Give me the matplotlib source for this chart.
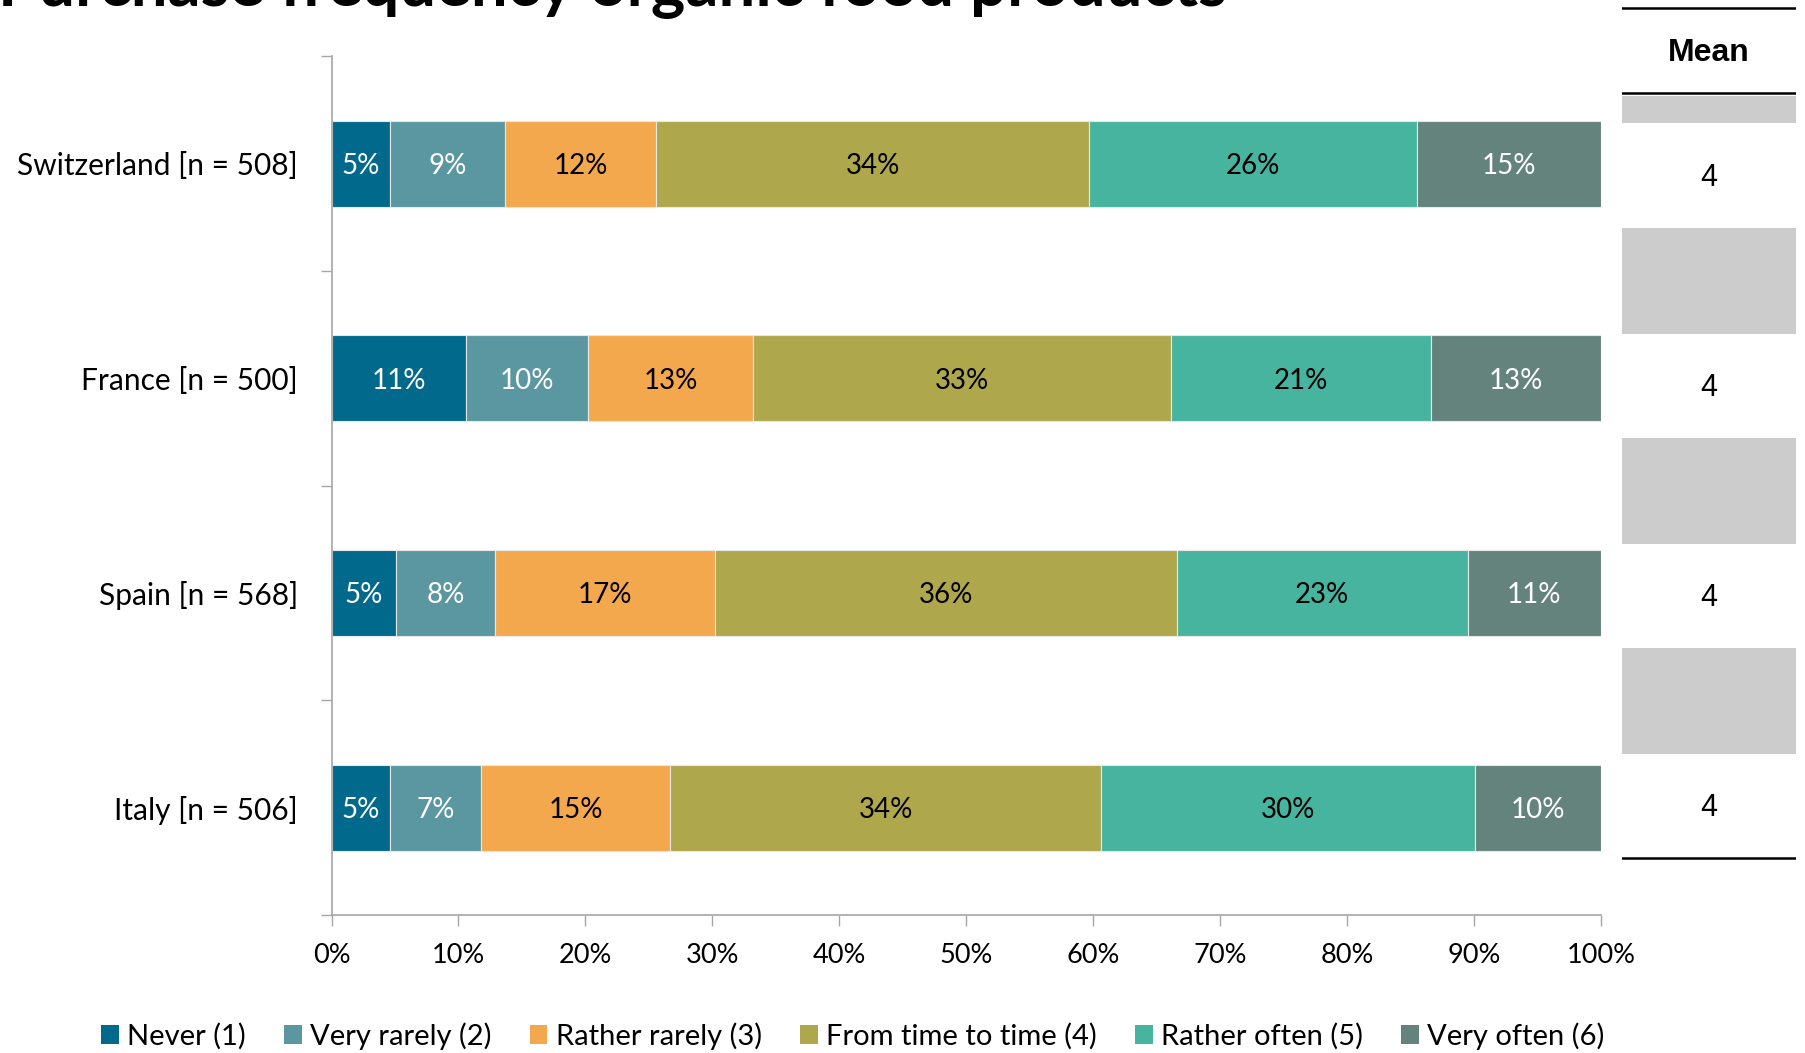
import matplotlib
matplotlib.use("Agg")
import matplotlib.pyplot as plt
import numpy as np

countries = ["Switzerland [n = 508]", "France [n = 500]", "Spain [n = 568]", "Italy [n = 506]"]
categories = ["Never (1)", "Very rarely (2)", "Rather rarely (3)", "From time to time (4)",
              "Rather often (5)", "Very often (6)"]
never = [4.6, 10.6, 5.1, 4.6]
very_rarely = [9.1, 9.6, 7.8, 7.2]
rather_rarely = [11.9, 13.0, 17.3, 14.9]
time_to_time = [34.1, 32.9, 36.4, 33.9]
rather_often = [25.8, 20.5, 22.9, 29.5]
very_often = [14.5, 13.4, 10.5, 9.9]
means = [4, 4, 4, 4]
xticks = [0, 10, 20, 30, 40, 50, 60, 70, 80, 90, 100]
title = "Purchase frequency organic food products"

series = [never, very_rarely, rather_rarely, time_to_time, rather_often, very_often]
colors = ["#016a8c", "#5b97a0", "#f4a84e", "#afa74c", "#46b49e", "#64837c"]
label_colors = ["white", "white", "black", "black", "black", "white"]

FONT = "Lato"
W, H = 1805, 1053
fig = plt.figure(figsize=(W / 100, H / 100), dpi=100)

# main axes
ax = fig.add_axes([331.5 / W, 1 - 915 / H, (1601 - 331.5) / W, (915 - 56.4) / H])
ypos = np.arange(len(countries))
left = np.zeros(len(countries))
for vals, col, lc, name in zip(series, colors, label_colors, categories):
    vals = np.array(vals)
    bars = ax.barh(ypos, vals, left=left, height=0.4, color=col, edgecolor="#e8e8e8",
                   linewidth=0.8, label=name)
    for b, v in zip(bars, vals):
        ax.text(b.get_x() + b.get_width() / 2, b.get_y() + b.get_height() / 2 + 0.01,
                f"{int(v + 0.5)}%", ha="center", va="center", color=lc,
                fontsize=20, family=FONT)
    left += vals

ax.set_xlim(0, 100)
ax.set_ylim(len(countries) - 0.5, -0.5)
ax.set_xticks(xticks)
ax.set_xticklabels([f"{t}%" for t in xticks], family=FONT, fontsize=19.5)
ax.set_yticks(np.arange(-0.5, len(countries), 1.0))
ax.set_yticklabels([])
ax.set_yticks(ypos, minor=True)
ax.set_yticklabels(countries, minor=True, family=FONT, fontsize=21.5)
ax.tick_params(axis="y", which="minor", length=0, pad=24)
ax.tick_params(axis="y", which="major", length=8, color="#a6a6a6", width=1)
ax.tick_params(axis="x", which="major", length=8, color="#a6a6a6", width=1, pad=12)
for s in ["top", "right"]:
    ax.spines[s].set_visible(False)
for s in ["left", "bottom"]:
    ax.spines[s].set_color("#a6a6a6")
    ax.spines[s].set_linewidth(1.2)

leg = fig.legend(loc="center", bbox_to_anchor=(853 / W, 1 - 1036 / H), ncol=6, frameon=False,
                 prop={"family": FONT, "size": 21}, handlelength=0.6, handleheight=0.6,
                 handletextpad=0.3, columnspacing=1.3, borderaxespad=0)
for h in leg.legend_handles:
    h.set_edgecolor("none")

# mean table axes (pixel coords)
tx0, tx1 = 1622, 1796
tab = fig.add_axes([tx0 / W, 0, (tx1 - tx0) / W, 1])
tab.set_xlim(0, 1)
tab.set_ylim(H, 0)
tab.axis("off")
tab.plot([0, 1], [8, 8], color="black", lw=1.8)
tab.text(0.5, 53, "Mean", ha="center", va="center", fontsize=23, weight="bold",
         family="Liberation Sans")
tab.plot([0, 1], [93, 93], color="black", lw=1.8)
tab.axhspan(96, 123, color="#cccccc", lw=0)
row = 210
for i, m in enumerate(means):
    top = 123 + row * i
    tab.text(0.5, top + row / 4 + 2, str(m), ha="center", va="center", fontsize=22,
             family="Liberation Sans")
    if i < len(means) - 1:
        tab.axhspan(top + 105, top + 211, color="#cccccc", lw=0)
tab.plot([0, 1], [858, 858], color="black", lw=1.8)

fig.text(-2 / W, 1 - 6 / H, title, ha="left", va="baseline", fontsize=47, weight="bold",
         family=FONT)

fig.savefig("out.png", dpi=100)
